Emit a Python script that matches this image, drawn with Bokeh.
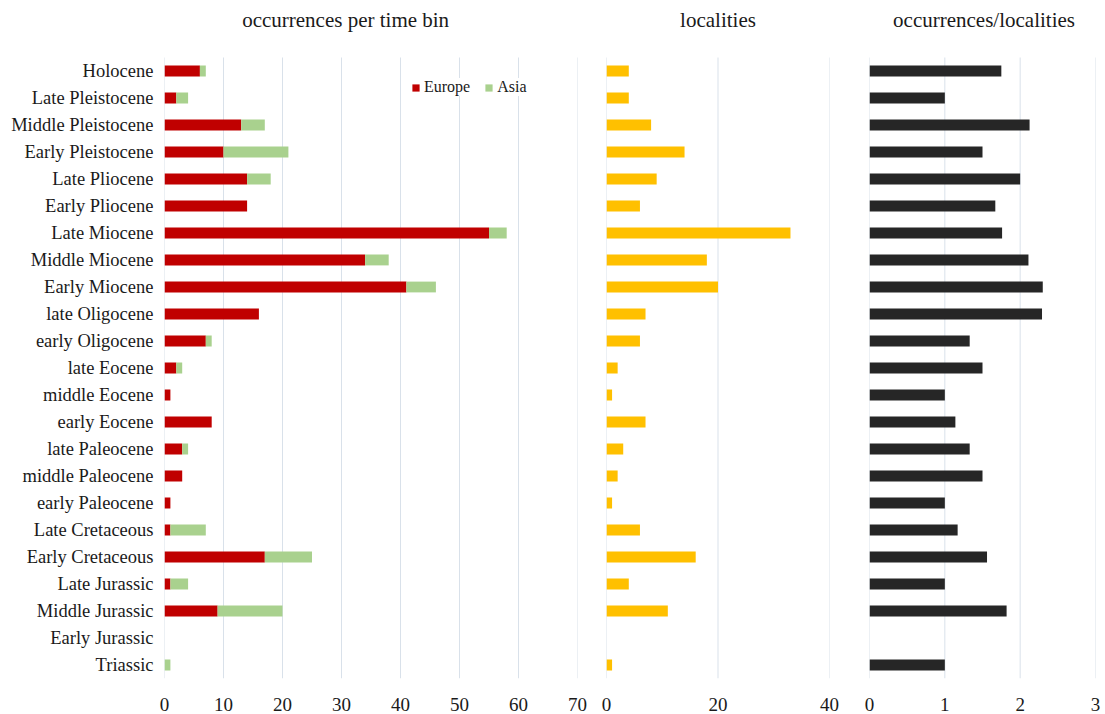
from bokeh.plotting import figure
from bokeh.layouts import row
from bokeh.models import ColumnDataSource, Range1d, FixedTicker
from bokeh.core.properties import value
from bokeh.embed import file_html
from bokeh.resources import INLINE

# Time bins, youngest first
bins = [
    "Holocene", "Late Pleistocene", "Middle Pleistocene", "Early Pleistocene",
    "Late Pliocene", "Early Pliocene", "Late Miocene", "Middle Miocene",
    "Early Miocene", "late Oligocene", "early Oligocene", "late Eocene",
    "middle Eocene", "early Eocene", "late Paleocene", "middle Paleocene",
    "early Paleocene", "Late Cretaceous", "Early Cretaceous", "Late Jurassic",
    "Middle Jurassic", "Early Jurassic", "Triassic",
]

# Occurrences per time bin
europe = [6, 2, 13, 10, 14, 14, 55, 34, 41, 16, 7, 2, 1, 8, 3, 3, 1, 1, 17, 1, 9, 0, 0]
asia = [1, 2, 4, 11, 4, 0, 3, 4, 5, 0, 1, 1, 0, 0, 1, 0, 0, 6, 8, 3, 11, 0, 1]

# Number of localities per time bin
localities = [4, 4, 8, 14, 9, 6, 33, 18, 20, 7, 6, 2, 1, 7, 3, 2, 1, 6, 16, 4, 11, 0, 1]

# Occurrences / localities
ratio = [1.75, 1.0, 2.125, 1.5, 2.0, 1.67, 1.76, 2.11, 2.3, 2.29, 1.33, 1.5,
         1.0, 1.14, 1.33, 1.5, 1.0, 1.17, 1.56, 1.0, 1.82, float("nan"), 1.0]

occ_ticks = [0, 10, 20, 30, 40, 50, 60, 70]
loc_ticks = [0, 20, 40]
ratio_ticks = [0, 1, 2, 3]

titles = ["occurrences per time bin", "localities", "occurrences/localities"]

FONT = "Liberation Serif"
TEXT = "#1a1a1a"
GRID = "#d9e1ea"
BAR_H = 0.40
H = 714
BOTTOM = 36
ROW_PX = 27.0                     # pixel height of one time-bin row
FRAME_H = H - BOTTOM
n = len(bins)
pos = list(range(n - 1, -1, -1))  # Holocene on top, Triassic at the bottom
y_top = n - 0.5                   # upper edge of the category area
y_max = -0.5 + FRAME_H / ROW_PX   # headroom above the rows holds the titles
title_y = y_top + (FRAME_H - n * ROW_PX - 19) / ROW_PX

source = ColumnDataSource(dict(
    pos=pos, bin=bins, Europe=europe, Asia=asia,
    localities=localities, ratio=ratio,
))


def make_fig(width, left, right, xmax, ticks):
    p = figure(
        width=width, height=H,
        y_range=Range1d(-0.5, y_max),
        x_range=Range1d(0, xmax),
        output_backend="svg", toolbar_location=None,
        min_border_left=left, min_border_right=right,
        min_border_top=0, min_border_bottom=BOTTOM,
    )
    p.outline_line_color = None
    p.background_fill_color = "white"
    p.border_fill_color = "white"
    p.xgrid.grid_line_color = None
    p.ygrid.grid_line_color = None
    # vertical grid lines only across the rows of time bins
    p.segment(x0=ticks, y0=[-0.5] * len(ticks), x1=ticks, y1=[y_top] * len(ticks),
              line_color=GRID, line_width=1)
    p.xaxis.ticker = FixedTicker(ticks=ticks)
    p.xaxis.axis_line_color = None
    p.xaxis.major_tick_line_color = None
    p.xaxis.minor_tick_line_color = None
    p.xaxis.major_tick_out = 0
    p.xaxis.major_tick_in = 0
    p.xaxis.major_label_standoff = 19
    p.xaxis.major_label_text_font = FONT
    p.xaxis.major_label_text_font_size = "19px"
    p.xaxis.major_label_text_color = TEXT
    p.yaxis.ticker = FixedTicker(ticks=pos)
    p.yaxis.major_label_overrides = {k: b for k, b in zip(pos, bins)}
    p.yaxis.axis_line_color = None
    p.yaxis.major_tick_line_color = None
    p.yaxis.minor_tick_line_color = None
    p.yaxis.major_tick_out = 0
    p.yaxis.major_tick_in = 0
    p.yaxis.major_label_standoff = 11
    p.yaxis.major_label_text_font = FONT
    p.yaxis.major_label_text_font_size = "18.5px"
    p.yaxis.major_label_text_color = TEXT
    return p


def add_title(p, text, x):
    p.text(x=[x], y=[title_y], text=[text], text_align="center",
           text_baseline="middle", text_font=value(FONT),
           text_font_size="21px", text_color=TEXT)


# Panel 1: stacked occurrences by continent
p1 = make_fig(590, 164, 13, 70, occ_ticks)
p1.hbar_stack(["Europe", "Asia"], y="pos", height=BAR_H, source=source,
              fill_color=["#c00000", "#a9d18e"], line_color=None,
              legend_label=["Europe", "Asia"])
leg = p1.legend[0]
leg.orientation = "horizontal"
leg.location = (247, 582)
leg.background_fill_color = "white"
leg.background_fill_alpha = 1.0
leg.border_line_color = None
leg.glyph_width = 9
leg.glyph_height = 9
leg.label_standoff = 4
leg.spacing = 14
leg.padding = 8
leg.margin = 0
leg.label_text_font = FONT
leg.label_text_font_size = "16px"
leg.label_text_color = TEXT
add_title(p1, titles[0], 30.7)

# Panel 2: localities
p2 = make_fig(265, 16, 26, 40, loc_ticks)
p2.yaxis.visible = False
p2.hbar(y="pos", right="localities", left=0, height=BAR_H, source=source,
        fill_color="#ffc000", line_color=None)
add_title(p2, titles[1], 20.0)

# Panel 3: occurrences per locality
p3 = make_fig(250, 14, 10, 3, ratio_ticks)
p3.yaxis.visible = False
p3.hbar(y="pos", right="ratio", left=0, height=BAR_H, source=source,
        fill_color="#262626", line_color=None)
add_title(p3, titles[2], 1.52)

layout = row(p1, p2, p3, spacing=0)

with open("out.html", "w") as f:
    f.write(file_html(layout, INLINE))
